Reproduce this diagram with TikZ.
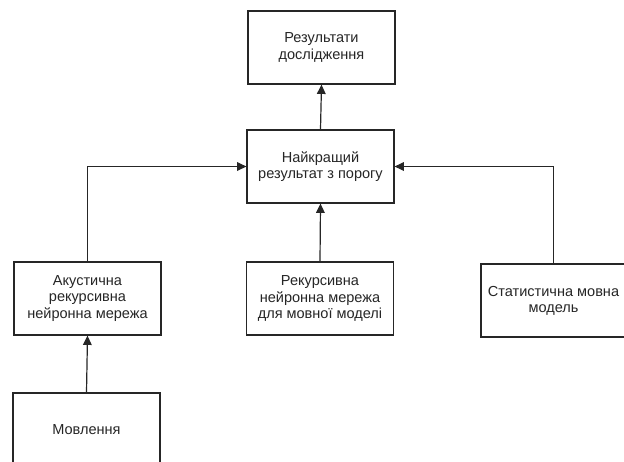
\documentclass[tikz,border=0pt]{standalone}
\usepackage{fontspec}
\setmainfont{Liberation Sans}
\usetikzlibrary{arrows.meta}
\begin{document}
\begin{tikzpicture}[x=0.75pt,y=-0.75pt,
  box/.style={draw=black!85,line width=0.9pt,fill=white,minimum width=#1*0.75pt,minimum height=73*0.75pt,align=center,inner sep=0pt,font=\fontsize{10.9pt}{12.2pt}\selectfont,text=black!85},
  box/.default=147,
  conn/.style={draw=black!85,line width=0.9pt,-{Triangle[length=7pt,width=6.5pt]}}]
\useasboundingbox (0,0) rectangle (624,461);
\node[box] (res) at (321.5,47.5) {Результати\\дослідження};
\node[box] (best) at (320.5,166.5) {Найкращий\\результат з порогу};
\node[box] (ac) at (87.5,298.5) {Акустична\\рекурсивна\\нейронна мережа};
\node[box] (rnn) at (320,298.5) {Рекурсивна\\нейронна мережа\\для мовної моделі};
\node[box=145] (stat) at (553.5,300.5) {Статистична мовна\\модель};
\node[box] (mov) at (86.5,429.5) {Мовлення};
\draw[conn] (best.north) -- (res.south);
\draw[conn] (rnn.north) -- (best.south);
\draw[conn] (mov.north) -- (ac.south);
\draw[conn] (ac.north) |- (best.west);
\draw[conn] (stat.north) |- (best.east);
\end{tikzpicture}
\end{document}
